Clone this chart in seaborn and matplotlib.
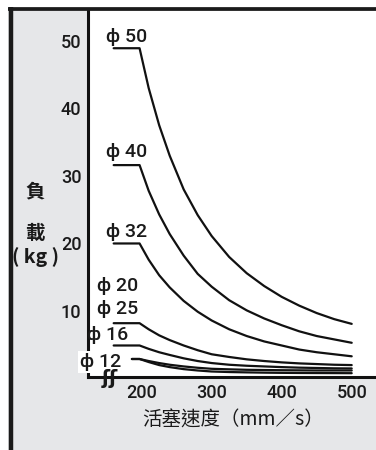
import matplotlib
matplotlib.use("Agg")
import matplotlib.pyplot as plt
import seaborn as sns
import pandas as pd
from matplotlib.patches import Rectangle
from matplotlib.lines import Line2D

# ---------------- data ----------------
speed_main = [160, 197, 210, 225, 240, 260, 280, 300, 325, 350, 375, 400, 425, 450, 475, 500]
speed_12 = [186, 197, 210, 225, 240, 260, 280, 300, 325, 350, 375, 400, 425, 450, 475, 500]

load_50 = [48.9, 48.9, 43.0, 37.5, 33.0, 28.0, 24.2, 21.1, 18.0, 15.6, 13.7, 12.1, 10.8, 9.7, 8.8, 8.1]
load_40 = [31.6, 31.6, 27.8, 24.3, 21.4, 18.2, 15.5, 13.6, 11.6, 10.1, 8.9, 7.9, 7.0, 6.3, 5.8, 5.3]
load_32 = [20.0, 20.0, 17.6, 15.3, 13.5, 11.5, 9.9, 8.6, 7.3, 6.3, 5.5, 4.9, 4.3, 3.9, 3.6, 3.3]
load_25 = [8.2, 8.2, 7.3, 6.4, 5.7, 4.9, 4.2, 3.6, 3.2, 2.85, 2.6, 2.4, 2.25, 2.15, 2.05, 2.0]
load_16 = [4.9, 4.9, 4.4, 3.9, 3.5, 3.0, 2.6, 2.3, 2.05, 1.9, 1.8, 1.7, 1.62, 1.57, 1.52, 1.5]
load_12 = [2.9, 2.9, 2.6, 2.3, 2.05, 1.8, 1.6, 1.45, 1.37, 1.3, 1.27, 1.24, 1.22, 1.2, 1.2, 1.2]
load_20 = [2.9, 2.9, 2.45, 2.0, 1.7, 1.4, 1.2, 1.05, 0.97, 0.92, 0.88, 0.85, 0.83, 0.82, 0.81, 0.8]

bore_labels = ["ϕ 50", "ϕ 40", "ϕ 32", "ϕ 20", "ϕ 25", "ϕ 16", "ϕ 12"]
x_ticks = [200, 300, 400, 500]
y_ticks = [10, 20, 30, 40, 50]
x_title = "活塞速度（mm／s）"
y_title_chars = ["負", "載", "( kg )"]

series = [
    ("φ50", speed_main, load_50),
    ("φ40", speed_main, load_40),
    ("φ32", speed_main, load_32),
    ("φ25", speed_main, load_25),
    ("φ16", speed_main, load_16),
    ("φ12", speed_12, load_12),
    ("φ20", speed_12, load_20),
]
rows = []
for name, xs, ys in series:
    for xv, yv in zip(xs, ys):
        rows.append({"bore": name, "speed": xv, "load": yv})
df = pd.DataFrame(rows)

# ---------------- figure ----------------
sns.set_theme(style="white")
LAT = ["Roboto", "Liberation Sans", "DejaVu Sans"]
plt.rcParams["font.family"] = LAT
CJK = ["Noto Sans CJK TC", "DejaVu Sans"]
INK = "#1a1a1a"

W, H = 376, 450
fig = plt.figure(figsize=(W / 100, H / 100), dpi=100, facecolor="white")
fig.patches.append(Rectangle((8 / W, 0), 1 - 8 / W, 1 - 8 / H, transform=fig.transFigure,
                             facecolor="#e6e7e9", edgecolor="none", zorder=-5))

ax_l, ax_b, ax_t = 87.7, 376.7, 11.0
ax = fig.add_axes([ax_l / W, (H - ax_b) / H, 1 - ax_l / W, (ax_b - ax_t) / H])
ax.set_facecolor("white")

sns.lineplot(data=df, x="speed", y="load", units="bore", estimator=None, sort=False,
             color="#111111", lw=1.6, ax=ax)

ax.set_xlim(122.9, 534.7)
ax.set_ylim(0.28, 54.41)
ax.set_xticks(x_ticks)
ax.set_yticks(y_ticks)
ax.set_xticklabels([str(v) for v in x_ticks])
ax.set_yticklabels([str(v) for v in y_ticks])
ax.set_xlabel("")
ax.set_ylabel("")
ax.tick_params(axis="x", direction="in", length=3.5, width=1.0, pad=5, labelsize=13,
               colors=INK)
ax.tick_params(axis="y", direction="out", length=3, width=1.0, pad=1.5, labelsize=13,
               colors=INK)
for lab in ax.get_xticklabels() + ax.get_yticklabels():
    lab.set_fontweight("medium")
for s in ["top", "right"]:
    ax.spines[s].set_visible(False)
for s in ["left", "bottom"]:
    ax.spines[s].set_color("#111111")
    ax.spines[s].set_linewidth(2.2)

# curve labels
lab_pos = [(179, 50.6), (179, 33.6), (179, 21.7), (166.1, 13.75), (166.1, 10.3), (151.9, 6.4), (141.9, 2.48)]
for txt, (xp, yp) in zip(bore_labels, lab_pos):
    kw = {}
    if txt.endswith("12"):
        kw = dict(bbox=dict(facecolor="white", edgecolor="none", pad=1.5))
    ax.text(xp, yp, txt, ha="center", va="center", fontsize=14, color=INK,
            fontweight="medium", family=["Roboto", "DejaVu Sans"],
            clip_on=False, zorder=10, **kw)

# axis break mark
ax.text(154.7, 0.0, "ʃʃ", ha="center", va="center", fontsize=14, color=INK,
        family=["DejaVu Sans"], fontweight="bold", clip_on=False, zorder=10)

# frame lines of the figure
fig.add_artist(Line2D([8 / W, 1], [1 - 9.2 / H] * 2, transform=fig.transFigure,
                      color=INK, lw=2.7, solid_capstyle="butt"))
fig.add_artist(Line2D([10.5 / W] * 2, [0, 1 - 7.3 / H], transform=fig.transFigure,
                      color=INK, lw=3.2, solid_capstyle="butt"))

# titles
fig.text(233.5 / W, 1 - 420 / H, x_title, ha="center", va="center", fontsize=14,
         color=INK, family=CJK, fontweight="medium")
for ch, (px, py) in zip(y_title_chars, [(35, 192), (35, 233), (36, 257)]):
    fig.text(px / W, 1 - py / H, ch, ha="center", va="center", fontsize=14,
             color=INK, family=CJK, fontweight="bold")

fig.savefig("out.png", dpi=100, facecolor=fig.get_facecolor())
